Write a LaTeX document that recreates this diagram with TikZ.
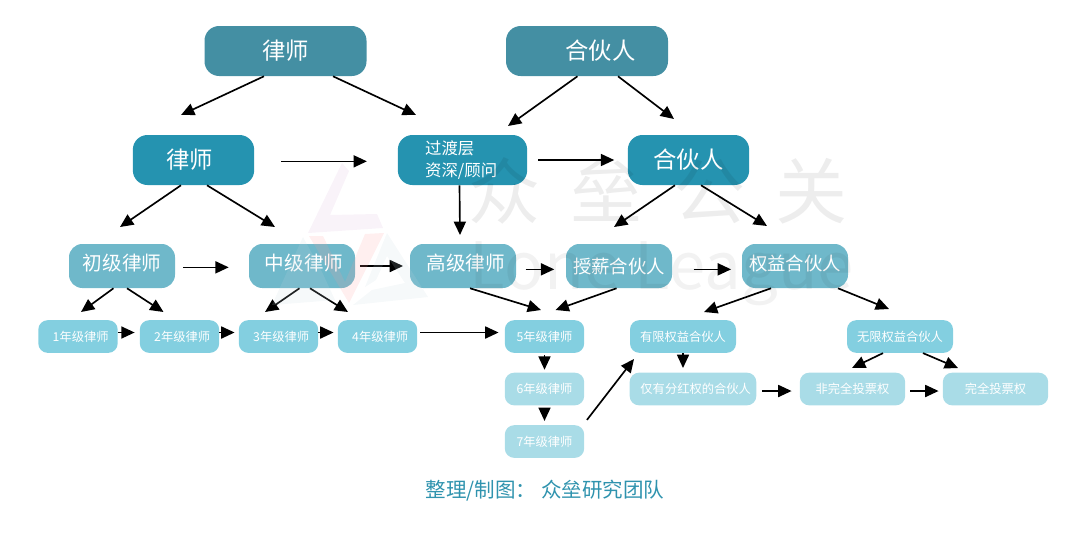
\documentclass[tikz,border=0pt]{standalone}
\usepackage{fontspec}
\setmainfont{Noto Sans CJK SC}
\usetikzlibrary{arrows.meta,calc}
\definecolor{topteal}{HTML}{448FA3}
\definecolor{midteal}{HTML}{2593B0}
\definecolor{lvlteal}{HTML}{6FB8CA}
\definecolor{yearteal}{HTML}{83CFE0}
\definecolor{paleteal}{HTML}{A9DCE7}
\definecolor{capteal}{HTML}{2F93AE}
\tikzset{
  box/.style={rectangle,rounded corners=7pt,text=white,inner sep=0pt,align=center},
  topbox/.style={box,fill=topteal,rounded corners=11pt,minimum width=121.5pt,minimum height=37.5pt,font=\fontsize{17.5}{20}\selectfont},
  midbox/.style={box,fill=midteal,rounded corners=11pt,minimum width=91pt,minimum height=37.5pt,font=\fontsize{17.5}{20}\selectfont},
  lvlbox/.style={box,fill=lvlteal,rounded corners=10pt,minimum width=79.5pt,minimum height=33pt,font=\fontsize{14.7}{18}\selectfont},
  lifted/.style={text height=13pt,text depth=6pt},
  yearbox/.style={box,fill=yearteal,minimum width=59.5pt,minimum height=24.5pt,font=\fontsize{9.2}{11}\selectfont},
  palebox/.style={yearbox,fill=paleteal},
  arr/.style={-{Triangle[length=10pt,width=9pt]},line width=1.25pt,black},
  wmark/.style={opacity=0.07,text opacity=0.07,text=black},
  wlogo/.style={opacity=0.16}
}
\begin{document}
\begin{tikzpicture}[x=0.75pt,y=-0.75pt]
  \useasboundingbox (0,0) rectangle (1080,551);
  % top row
  \node[topbox] (lawyertop) at (285.5,51) {律师};
  \node[topbox] (partnertop) at (587,51) {\hspace*{20pt}合伙人};
  % second row
  \node[midbox] (lawyermid) at (193.5,160) {\hspace*{-6pt}律师};
  \node[midbox,minimum width=97pt] (transit) at (462.5,160) {\hspace*{14pt}\parbox{70pt}{\fontsize{12.3}{16}\selectfont 过渡层\\资深/顾问}};
  \node[midbox] (partnermid) at (688.5,160) {合伙人};
  % third row
  \node[lvlbox,lifted] (junior) at (122,266) {初级律师};
  \node[lvlbox,lifted] (middle) at (302,266) {\hspace*{3pt}中级律师};
  \node[lvlbox,lifted] (senior) at (463,266) {\hspace*{4pt}高级律师};
  \node[lvlbox,font=\fontsize{13.8}{16}\selectfont] (salaried) at (619,266) {授薪合伙人};
  \node[lvlbox,lifted,font=\fontsize{13.8}{16}\selectfont] (equity) at (795,266) {权益合伙人};
  % year row
  \node[yearbox] (y1) at (78,336.5) {\hspace*{4pt}1年级律师};
  \node[yearbox] (y2) at (179.5,336.5) {\hspace*{4pt}2年级律师};
  \node[yearbox] (y3) at (278.5,336.5) {\hspace*{4pt}3年级律师};
  \node[yearbox] (y4) at (377.5,336.5) {\hspace*{4pt}4年级律师};
  \node[yearbox] (y5) at (544.5,336.5) {5年级律师};
  \node[yearbox,minimum width=79.5pt] (limited) at (683,336.5) {有限权益合伙人};
  \node[yearbox,minimum width=79.5pt] (unlimited) at (900,336.5) {无限权益合伙人};
  % pale row
  \node[palebox] (y6) at (544.5,389) {6年级律师};
  \node[palebox] (y7) at (544.5,441.5) {7年级律师};
  \node[palebox,minimum width=95pt] (dividend) at (693,389) {\hspace*{4pt}仅有分红权的合伙人};
  \node[palebox,minimum width=79pt] (partvote) at (852.5,389) {非完全投票权};
  \node[palebox,minimum width=79pt] (fullvote) at (995.5,389) {\raisebox{1.5pt}{完全投票权}};
  % free ends
  \coordinate (lt1) at (181,115);
  \coordinate (lt2) at (416,115);
  \coordinate (pt1) at (508,126);
  \coordinate (pt2) at (674,119);
  \coordinate (lm1) at (120,227);
  \coordinate (lm2) at (275,227);
  \coordinate (pm1) at (614,227);
  \coordinate (pm2) at (767,226);
  \coordinate (tr1) at (460,235);
  \coordinate (j1) at (81,312);
  \coordinate (j2) at (163.5,312);
  \coordinate (m1) at (265,312);
  \coordinate (m2) at (348,312);
  \coordinate (s1) at (541,310);
  \coordinate (sa1) at (555.5,310);
  \coordinate (e1) at (704,312);
  \coordinate (e2) at (889,309);
  \coordinate (u1) at (852,368);
  \coordinate (u2) at (958,368);
  \coordinate (lim1) at (683,368);
  \coordinate (y7a) at (634,359);
  % connectors
  \draw[arr] ($(lawyertop.south)+(-21.5,0)$) -- (lt1);
  \draw[arr] ($(lawyertop.south)+(47.5,0)$) -- (lt2);
  \draw[arr] ($(partnertop.south)+(-9.5,0)$) -- (pt1);
  \draw[arr] ($(partnertop.south)+(31,0)$) -- (pt2);
  \draw[arr,shorten <=20pt,shorten >=23pt] ([yshift=-1pt]lawyermid.east) -- ([yshift=-1pt]transit.west);
  \draw[arr,shorten <=8pt,shorten >=10pt] (transit.east) -- (partnermid.west);
  \draw[arr] ($(lawyermid.south)+(-12.5,0)$) -- (lm1);
  \draw[arr] ($(lawyermid.south)+(13.5,0)$) -- (lm2);
  \draw[arr] ($(transit.south)+(-3,0)$) -- (tr1);
  \draw[arr] ($(partnermid.south)+(-13.5,0)$) -- (pm1);
  \draw[arr] ($(partnermid.south)+(12.5,0)$) -- (pm2);
  \draw[arr,shorten <=6pt,shorten >=15pt] ([yshift=-1pt]junior.east) -- ([yshift=-1pt]middle.west);
  \draw[arr,shorten <=3.4pt,shorten >=5pt] (middle.east) -- (senior.west);
  \draw[arr,shorten <=7pt,shorten >=8.6pt] ([yshift=-2.5pt]senior.east) -- ([yshift=-2.5pt]salaried.west);
  \draw[arr,shorten <=16pt,shorten >=8pt] ([yshift=-2.5pt]salaried.east) -- ([yshift=-2.5pt]equity.west);
  \draw[arr] ($(junior.south)+(-8.5,0)$) -- (j1);
  \draw[arr] ($(junior.south)+(5,0)$) -- (j2);
  \draw[arr] ($(middle.south)+(-2.5,0)$) -- (m1);
  \draw[arr] ($(middle.south)+(8,0)$) -- (m2);
  \draw[arr] ($(senior.south)+(7,0)$) -- (s1);
  \draw[arr] ($(salaried.south)+(-2.5,0)$) -- (sa1);
  \draw[arr] ($(equity.south)+(-24,0)$) -- (e1);
  \draw[arr] ($(equity.south)+(43,0)$) -- (e2);
  \draw[arr,shorten >=3.7pt] ([yshift=3pt]y1.east) -- ([yshift=3pt]y2.west);
  \draw[arr,shorten >=3pt] ([yshift=3pt]y2.east) -- ([yshift=3pt]y3.west);
  \draw[arr,shorten >=3pt] ([yshift=3pt]y3.east) -- ([yshift=3pt]y4.west);
  \draw[arr,shorten <=2pt,shorten >=4.5pt] ([yshift=3pt]y4.east) -- ([yshift=3pt]y5.west);
  \draw[arr,shorten <=1.5pt,shorten >=2pt] (y5) -- (y6);
  \draw[arr,shorten <=2pt,shorten >=3pt] (y6) -- (y7);
  \draw[arr] ($(y7.north east)+(2.5,-5)$) -- (y7a);
  \draw[arr] (limited.south) -- (lim1);
  \draw[arr,shorten <=4pt,shorten >=6pt] ([yshift=-1.5pt]dividend.east) -- ([yshift=-1.5pt]partvote.west);
  \draw[arr,shorten <=3.5pt,shorten >=3pt] ([yshift=-1.5pt]partvote.east) -- ([yshift=-1.5pt]fullvote.west);
  \draw[arr] ($(unlimited.south)+(-17,0)$) -- (u1);
  \draw[arr] ($(unlimited.south)+(23,0)$) -- (u2);
  % caption
  \node[text=capteal,font=\fontsize{15.4}{18}\selectfont] (caption) at (545,491) {整理/制图： 众垒研究团队};
  % watermark
  \node[wmark,font=\fontsize{54}{60}\selectfont] (markcn) at (658,191) {众\hspace{23pt}垒\hspace{23pt}公\hspace{23pt}关};
  \node[wmark,opacity=0.05,text opacity=0.05,font=\fontsize{49}{54}\selectfont] (marken) at (662,274) {Lone League};
  \fill[wlogo,fill=violet!30] (342,163) -- (349,171) -- (330,215) -- (377,214) -- (383,228) -- (308,233) -- cycle;
  \fill[wlogo,fill=red!40] (309,236) -- (323,236) -- (345,282) -- (365,234) -- (384,233) -- (349,303) -- cycle;
  \fill[wlogo,fill=cyan!30!gray!40] (387,233) -- (428,297) -- (353,305) -- (372,290) -- (405,283) -- (387,256) -- (376,280) -- (365,287) -- cycle;
  \fill[wlogo,fill=cyan!30!gray!40] (303,237) -- (322,272) -- (335,300) -- (272,305) -- cycle;
\end{tikzpicture}
\end{document}
